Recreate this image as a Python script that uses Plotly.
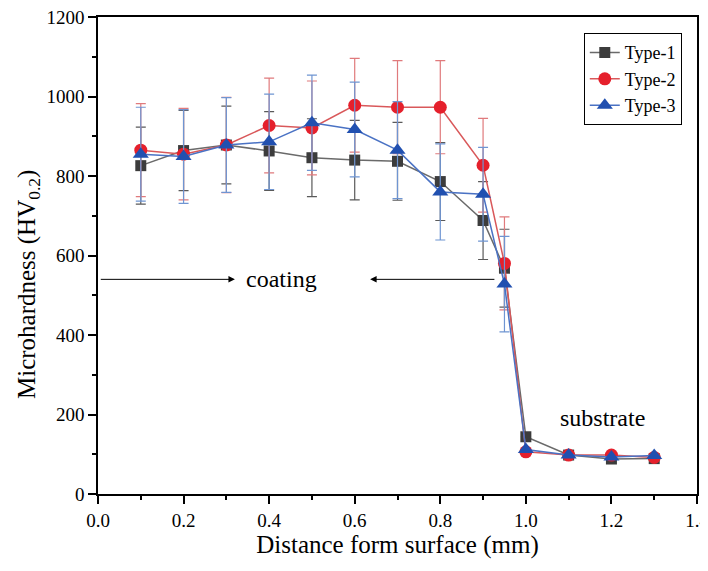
import plotly.graph_objects as go

x = [0.1, 0.2, 0.3, 0.4, 0.5, 0.6, 0.7, 0.8, 0.9, 0.95, 1.0, 1.1, 1.2, 1.3]
type1 = [826, 864, 878, 863, 846, 840, 837, 786, 688, 568, 144, 98, 88, 89]
type2 = [865, 855, 878, 927, 921, 978, 973, 973, 827, 580, 106, 98, 98, 92]
type3 = [855, 849, 878, 886, 934, 917, 865, 760, 754, 528, 112, 98, 93, 97]
err1 = [97, 101, 98, 99, 98, 100, 98, 98, 98, 98, 0, 0, 0, 0]
err2 = [117, 115, 120, 119, 118, 118, 117, 117, 118, 117, 0, 0, 0, 0]
err3 = [118, 118, 119, 120, 120, 119, 122, 121, 118, 120, 0, 0, 0, 0]

FONT = "Liberation Serif, Times New Roman, serif"

fig = go.Figure()
series = [
    ("Type-1", type1, err1, "#3c3c3c", "#6a6a6a", "#5a5a5a", "square", 11),
    ("Type-2", type2, err2, "#e5202c", "#d9585a", "#e07a7c", "circle", 13),
    ("Type-3", type3, err3, "#2150b0", "#4a72c4", "#6f95d2", "triangle-up", 14),
]
for name, y, e, mcol, lcol, ecol, sym, size in series:
    fig.add_trace(go.Scatter(
        x=x, y=y, name=name, mode="lines+markers",
        line=dict(color=lcol, width=1.5),
        marker=dict(color=mcol, symbol=sym, size=size, line=dict(width=0)),
        error_y=dict(type="data", array=e, visible=True, color=ecol, thickness=1.2, width=5),
    ))

fig.add_annotation(x=0.32, y=540, ax=0.003, ay=540, axref="x", ayref="y", xref="x", yref="y",
                   text="", showarrow=True, arrowhead=2, arrowsize=1.3, arrowwidth=1, arrowcolor="black")
fig.add_annotation(x=0.636, y=540, ax=0.93, ay=540, axref="x", ayref="y", xref="x", yref="y",
                   text="", showarrow=True, arrowhead=2, arrowsize=1.3, arrowwidth=1, arrowcolor="black")
fig.add_annotation(x=0.43, y=540, text="coating", showarrow=False,
                   font=dict(family=FONT, size=24, color="black"))
fig.add_annotation(x=1.178, y=190, text="substrate", showarrow=False,
                   font=dict(family=FONT, size=24, color="black"))
fig.add_annotation(xref="paper", yref="paper", x=-0.117, y=0.44, xanchor="center", yanchor="middle",
                   text="Microhardness (HV<sub>0.2</sub>)", textangle=-90, showarrow=False,
                   font=dict(family=FONT, size=25, color="black"))

# page body has an 8px default margin; size/offset the figure so it fits the window without scrolling
fig.update_layout(
    width=700, height=554,
    margin=dict(l=90, r=11, t=9, b=68),
    plot_bgcolor="white", paper_bgcolor="white",
    font=dict(family=FONT, size=19, color="black"),
    showlegend=True,
    legend=dict(x=0.811, y=0.966, xanchor="left", yanchor="top",
                bordercolor="black", borderwidth=1, bgcolor="white",
                font=dict(family=FONT, size=18), tracegroupgap=0,
                itemwidth=30),
    xaxis=dict(range=[0, 1.4], dtick=0.2, tick0=0, tickformat=".1f", automargin=False,
               ticklabeloverflow="allow",
               showgrid=False, zeroline=False, showline=True, linecolor="black", linewidth=1.5,
               mirror=True, ticks="outside", ticklen=8, tickwidth=1.5, tickcolor="black",
               minor=dict(dtick=0.1, ticks="outside", ticklen=4, tickwidth=1.5, tickcolor="black"),
               title=dict(text="Distance form surface (mm)", font=dict(family=FONT, size=25), standoff=5)),
    yaxis=dict(range=[0, 1200], dtick=200, tick0=0, automargin=False,
               ticklabeloverflow="allow",
               showgrid=False, zeroline=False, showline=True, linecolor="black", linewidth=1.5,
               mirror=True, ticks="outside", ticklen=8, tickwidth=1.5, tickcolor="black",
               minor=dict(dtick=100, ticks="outside", ticklen=4, tickwidth=1.5, tickcolor="black")),
)

fig.write_html("out.html")
